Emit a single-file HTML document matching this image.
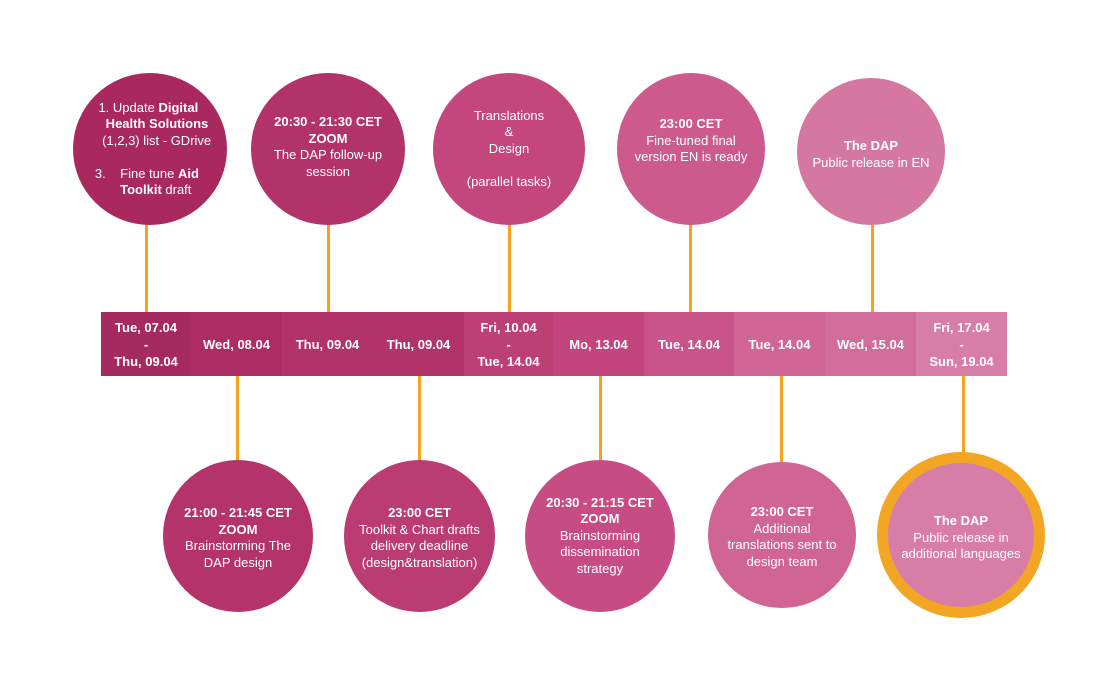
<!DOCTYPE html>
<html><head><style>
body{margin:0;width:1116px;height:688px;background:#fff;position:relative;overflow:hidden;font-family:"Liberation Sans",sans-serif;color:#fff}
.c{position:absolute;border-radius:50%;display:flex;align-items:center;justify-content:center;text-align:center;font-size:13px;line-height:16.5px}
.l{position:absolute;width:3px;background:#f7a21e}
.cell{position:absolute;top:312px;height:64px;display:flex;align-items:center;justify-content:center;text-align:center;font-size:13px;line-height:17px;font-weight:bold}
b{font-weight:bold}
</style></head><body>
<div class="l" style="left:145px;top:224px;height:90px"></div>
<div class="l" style="left:327px;top:224px;height:90px"></div>
<div class="l" style="left:508px;top:224px;height:90px"></div>
<div class="l" style="left:689px;top:224px;height:90px"></div>
<div class="l" style="left:871px;top:224px;height:90px"></div>
<div class="l" style="left:236px;top:374px;height:90px"></div>
<div class="l" style="left:418px;top:374px;height:90px"></div>
<div class="l" style="left:599px;top:374px;height:90px"></div>
<div class="l" style="left:780px;top:374px;height:92px"></div>
<div class="l" style="left:962px;top:374px;height:82px"></div>

<div class="cell" style="left:101px;width:90px;background:#a52a5f">Tue, 07.04<br>-<br>Thu, 09.04</div>
<div class="cell" style="left:191px;width:91px;background:#ad2d63">Wed, 08.04</div>
<div class="cell" style="left:282px;width:91px;background:#b23367">Thu, 09.04</div>
<div class="cell" style="left:373px;width:91px;background:#b0346a">Thu, 09.04</div>
<div class="cell" style="left:464px;width:89px;background:#bd4075">Fri, 10.04<br>-<br>Tue, 14.04</div>
<div class="cell" style="left:553px;width:91px;background:#c2457d">Mo, 13.04</div>
<div class="cell" style="left:644px;width:90px;background:#c95489">Tue, 14.04</div>
<div class="cell" style="left:734px;width:91px;background:#cf6694">Tue, 14.04</div>
<div class="cell" style="left:825px;width:91px;background:#d06d99">Wed, 15.04</div>
<div class="cell" style="left:916px;width:91px;background:#d77ea6">Fri, 17.04<br>-<br>Sun, 19.04</div>

<div class="c" style="left:73px;top:73px;width:154px;height:152px;background:#a9295f"><div style="text-align:left;margin-left:6px">&nbsp;1. Update <b>Digital<br>&nbsp;&nbsp;&nbsp;Health Solutions</b><br>&nbsp;&nbsp;(1,2,3) list - GDrive<br><br>3.&nbsp;&nbsp;&nbsp;&nbsp;Fine tune <b>Aid<br>&nbsp;&nbsp;&nbsp;&nbsp;&nbsp;&nbsp;&nbsp;Toolkit</b> draft</div></div>
<div class="c" style="left:251px;top:73px;width:154px;height:152px;background:#b2326a"><div style="margin-top:-4px"><b>20:30 - 21:30 CET<br>ZOOM</b><br>The DAP follow-up<br>session</div></div>
<div class="c" style="left:433px;top:73px;width:152px;height:152px;background:#c3467c"><div>Translations<br>&amp;<br>Design<br><br>(parallel tasks)</div></div>
<div class="c" style="left:617px;top:73px;width:148px;height:152px;background:#cc5a8d"><div style="margin-top:-16px"><b>23:00 CET</b><br>Fine-tuned final<br>version EN is ready</div></div>
<div class="c" style="left:797px;top:78px;width:148px;height:147px;background:#d478a2"><div style="margin-top:6px"><b>The DAP</b><br>Public release in EN</div></div>

<div class="c" style="left:163px;top:460px;width:150px;height:152px;background:#b3336a"><div style="margin-top:4px"><b>21:00 - 21:45 CET<br>ZOOM</b><br>Brainstorming The<br>DAP design</div></div>
<div class="c" style="left:344px;top:460px;width:151px;height:152px;background:#bb3c73"><div style="margin-top:4px"><b>23:00 CET</b><br>Toolkit &amp; Chart drafts<br>delivery deadline<br>(design&amp;translation)</div></div>
<div class="c" style="left:525px;top:460px;width:150px;height:152px;background:#c74c84"><div><b>20:30 - 21:15 CET<br>ZOOM</b><br>Brainstorming<br>dissemination<br>strategy</div></div>
<div class="c" style="left:708px;top:462px;width:148px;height:146px;background:#d06594"><div style="margin-top:4px"><b>23:00 CET</b><br>Additional<br>translations sent to<br>design team</div></div>
<div class="c" style="left:877px;top:452px;width:146px;height:144px;background:#d87da8;border:11px solid #f3a623"><div style="margin-top:6px"><b>The DAP</b><br>Public release in<br>additional languages</div></div>
</body></html>
